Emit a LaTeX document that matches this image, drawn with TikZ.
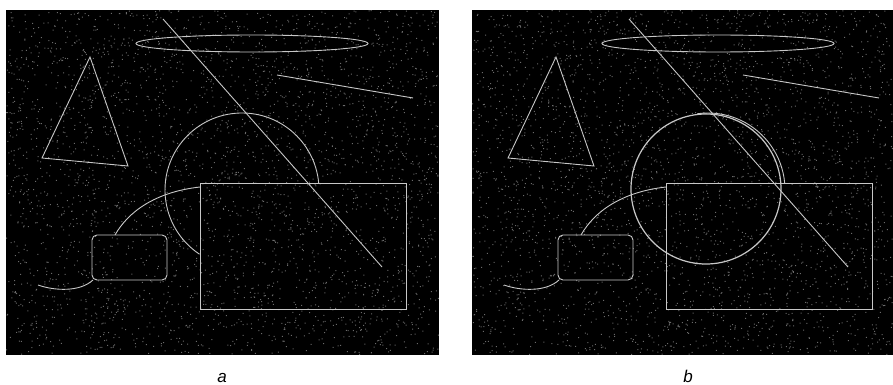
\documentclass[tikz,border=0pt]{standalone}
\usepackage{fontspec}
\setmainfont{Liberation Sans}
\begin{document}
\begin{tikzpicture}[x=1pt,y=-1pt,
  panel/.style={fill=black},
  outl/.style={draw=black!22, line width=0.9pt},
  speck/.style={fill=black!58},
  lbl/.style={font=\fontsize{17}{17}\selectfont\itshape, text=black, anchor=base}]
\useasboundingbox[fill=white] (0,0) rectangle (893,385);
\pgfmathsetseed{4217}
% panels
\fill[panel] (6,10) rectangle (439,355);
\fill[panel] (472,10) rectangle (893,355);
% noise
\fill[speck] \foreach \i in {1,...,3300}{ ({6+432*rnd},{10+344*rnd}) rectangle ++(1,1) };
\fill[speck] \foreach \i in {1,...,3200}{ ({472+420*rnd},{10+344*rnd}) rectangle ++(1,1) };
% shapes, panel a and b
\foreach \dx in {0,466}{
\begin{scope}[xshift=\dx pt]
  \draw[outl] (163,19) -- (382,267);
  \draw[outl] (252,43.5) ellipse[x radius=116, y radius=8.5];
  \draw[outl] (277,75) -- (413,98);
  \draw[outl] (90,57) -- (42,158) -- (128,166) -- cycle;
  \draw[outl] (200,183) rectangle (406,309);
  \draw[outl, rounded corners=5pt] (92,235) rectangle (167,280);
  \draw[outl] (115,235) .. controls (128,212) and (155,192) .. (200,187);
  \draw[outl] (38,285) .. controls (55,291) and (80,292) .. (93,280);
\end{scope}
}
% partly hidden circle in panel a
\draw[outl] (242,190) ++(-5:77) arc[start angle=-5, end angle=-236.5, radius=77];
% remnant of the old arc and the completed circle in panel b
\draw[outl] (708,190) ++(-5:77) arc[start angle=-5, end angle=-98, radius=77];
\draw[outl, line width=1.2pt] (706,189) circle[radius=75];
% labels
\node[lbl] (la) at (222,382) {a};
\node[lbl] (lb) at (688,382) {b};
\end{tikzpicture}
\end{document}
